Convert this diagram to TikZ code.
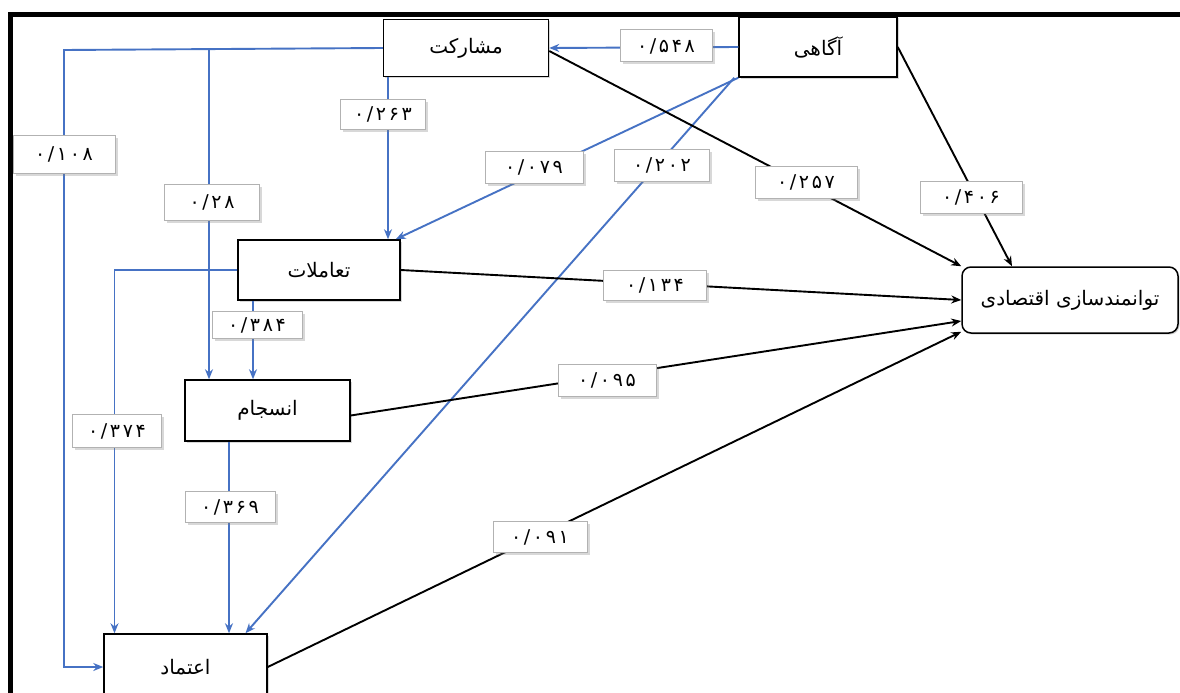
\documentclass[tikz,border=0pt]{standalone}
\usepackage{fontspec}
\newfontfamily\arabicfont[Script=Arabic]{DejaVu Sans}
\newfontfamily\numfont[Script=Arabic,LetterSpace=14]{DejaVu Sans}
\TeXXeTstate=1
\usetikzlibrary{arrows.meta,shadows}
\definecolor{pathblue}{RGB}{70,114,196}
\tikzset{
 box/.style={draw=black, line width=1.5pt, fill=white, inner sep=0pt,
   font=\arabicfont\fontsize{20}{24}\selectfont,
   drop shadow={shadow xshift=1.5pt, shadow yshift=-1.5pt, opacity=0.3, fill=gray}},
 lab/.style={draw=gray!60, line width=1pt, fill=white, minimum width=95pt,
   minimum height=32pt, inner sep=0pt, font=\numfont\fontsize{19}{22}\selectfont,
   drop shadow={shadow xshift=2.5pt, shadow yshift=-2.5pt, opacity=0.3, fill=gray}},
 barrow/.style={draw=pathblue, line width=1.9pt, -{Stealth[length=10pt,width=8pt]}},
 karrow/.style={draw=black, line width=1.9pt, -{Stealth[length=10pt,width=8pt]}},
 frameline/.style={draw=black, line width=5pt},
}
\begin{document}
\begin{tikzpicture}[x=1pt,y=-1pt]
\path[use as bounding box, clip] (0,0) rectangle (1180,693);
\fill[white] (0,0) rectangle (1180,693);
\draw[frameline] (10.5,720) -- (10.5,15) -- (1200,15);

% main nodes
\node[box, minimum width=165pt, minimum height=57pt] (mosh) at (466,48) {\beginR مشارکت\endR};
\node[box, minimum width=158pt, minimum height=60pt] (agahi) at (818,47) {\beginR آگاهی\endR};
\node[box, minimum width=162pt, minimum height=60pt] (taam) at (319,270) {\beginR تعاملات\endR};
\node[box, minimum width=165pt, minimum height=61pt] (ensejam) at (267.5,410.5) {\beginR انسجام\endR};
\node[box, minimum width=163pt, minimum height=66pt] (etemad) at (185.5,667) {\beginR اعتماد\endR};
\node[box, rounded corners=9pt, minimum width=216pt, minimum height=66pt] (toan) at (1070,300) {\beginR توانمندسازی اقتصادی\endR};

% helper coordinates
\coordinate (c1) at (64,50);
\coordinate (c2) at (209,50);
\coordinate (x388) at (388,0);
\coordinate (x253) at (253,0);
\coordinate (x229) at (229,0);

% blue paths
\draw[barrow] (agahi.west) -- (mosh.east);
\draw[barrow] (mosh.west) -- (c1) |- (etemad.west);
\draw[barrow] (c2) -- (c2 |- ensejam.north);
\draw[barrow] (mosh.south -| x388) -- (taam.north -| x388);
\draw[barrow] (agahi.south west) -- ([xshift=-5pt]taam.north east);
\draw[barrow] ([xshift=-4pt]agahi.south west) -- ([xshift=60pt]etemad.north);
\draw[barrow] (taam.south -| x253) -- (ensejam.north -| x253);
\draw[barrow] (taam.west) -| ([xshift=-71pt]etemad.north);
\draw[barrow] (ensejam.south -| x229) -- (etemad.north -| x229);

% black paths
\draw[karrow] ([yshift=-3pt]mosh.east) -- (toan.north west);
\draw[karrow] (agahi.east) -- ([xshift=-58pt]toan.north);
\draw[karrow] (taam.east) -- (toan.west);
\draw[karrow] ([yshift=-5pt]ensejam.east) -- ([yshift=-21pt]toan.west);
\draw[karrow] (etemad.east) -- ([yshift=2pt]toan.south west);

% labels
\node[lab, minimum width=92pt] (l548) at (666,46) {۰/۵۴۸};
\node[lab, minimum width=102pt, minimum height=38pt] (l108) at (64,154) {۰/۱۰۸};
\node[lab, minimum height=36pt] (l28) at (212,202) {۰/۲۸};
\node[lab, minimum width=85pt, minimum height=30pt] (l263) at (383,114) {۰/۲۶۳};
\node[lab, minimum width=98pt] (l079) at (534,167) {۰/۰۷۹};
\node[lab, minimum width=95pt] (l202) at (662,165) {۰/۲۰۲};
\node[lab, minimum width=102pt] (l257) at (806,182) {۰/۲۵۷};
\node[lab, minimum width=102pt] (l406) at (971,197) {۰/۴۰۶};
\node[lab, minimum width=103pt, minimum height=30pt] (l134) at (655,285) {۰/۱۳۴};
\node[lab, minimum width=98pt] (l095) at (607,380) {۰/۰۹۵};
\node[lab, minimum width=90pt, minimum height=27pt] (l384) at (257,325) {۰/۳۸۴};
\node[lab, minimum width=89pt, minimum height=33pt] (l374) at (117,431) {۰/۳۷۴};
\node[lab, minimum width=90pt, minimum height=31pt] (l369) at (230,507) {۰/۳۶۹};
\node[lab, minimum width=94pt, minimum height=31pt] (l091) at (540,537) {۰/۰۹۱};
\end{tikzpicture}
\end{document}
